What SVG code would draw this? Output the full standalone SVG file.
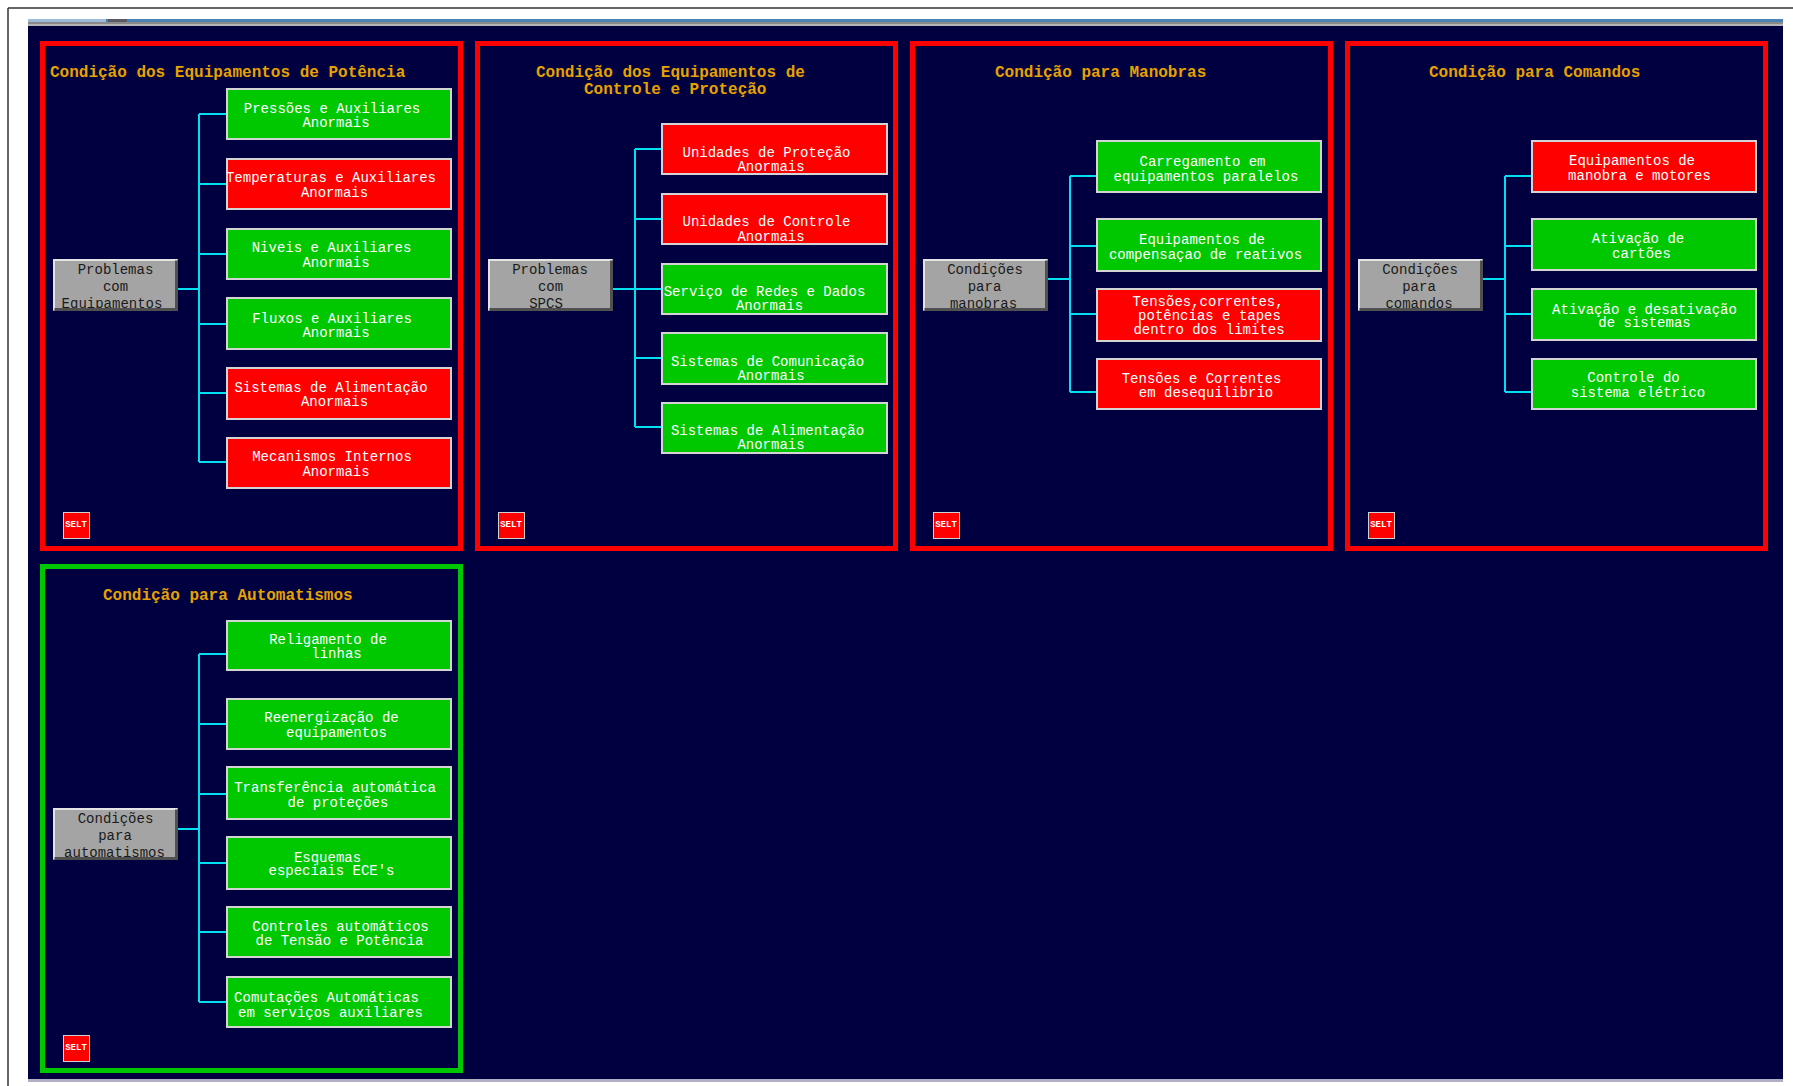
<svg xmlns="http://www.w3.org/2000/svg" xmlns:xlink="http://www.w3.org/1999/xlink" width="1793" height="1086" viewBox="0 0 1793 1086">
  <style>
    .frame { fill: none; stroke: #333333; stroke-width: 1.5; }
    .panel { fill: none; stroke-width: 5; }
    .panel-red { stroke: #ff0000; }
    .panel-green { stroke: #00c800; }
    .title { font-family: "Liberation Mono", "Courier New", monospace; font-size: 16px; font-weight: bold; fill: #e6a200; }
    .box { stroke: #d4d4d4; stroke-width: 2; }
    .ok { fill: #00c800; }
    .alarm { fill: #ff0000; }
    .bt { font-family: "Liberation Mono", "Courier New", monospace; font-size: 14px; fill: #ffffff; text-anchor: middle; }
    .gt { font-family: "Liberation Mono", "Courier New", monospace; font-size: 14px; fill: #1a1a1a; text-anchor: middle; }
    .conn { fill: none; stroke: #00e0f0; stroke-width: 2; }
    .selt-t { font-family: "Liberation Mono", "Courier New", monospace; font-size: 9px; font-weight: bold; fill: #ffffff; text-anchor: middle; }
  </style>
  <defs>
    <!-- bevelled grey push-button, 125 x 52 -->
    <symbol id="btn" width="125" height="52" overflow="visible">
      <rect x="0" y="0" width="125" height="52" fill="#a4a4a4"/>
      <polyline points="1,51 1,1 124,1" fill="none" stroke="#e4e4e4" stroke-width="2"/>
      <polyline points="1.5,50.5 123.5,50.5 123.5,1.5" fill="none" stroke="#505050" stroke-width="3"/>
    </symbol>
    <!-- small SELT selector button -->
    <symbol id="selt" width="27" height="27" overflow="visible">
      <rect x="0.5" y="0.5" width="26" height="26" fill="#ff0000" stroke="#d0d0d0" stroke-width="1"/>
      <text x="13" y="15" class="selt-t">SELT</text>
    </symbol>
    <clipPath id="clip-p1"><rect x="54" y="260" width="121" height="48"/></clipPath>
    <clipPath id="clip-p2"><rect x="489" y="260" width="121" height="48"/></clipPath>
    <clipPath id="clip-p3"><rect x="924" y="260" width="121" height="48"/></clipPath>
    <clipPath id="clip-p4"><rect x="1359" y="260" width="121" height="48"/></clipPath>
    <clipPath id="clip-p5"><rect x="54" y="809" width="121" height="48"/></clipPath>
  </defs>

  <!-- window background and frame -->
  <rect x="0" y="0" width="1793" height="1086" fill="#ffffff"/>
  <line x1="8" y1="8" x2="1793" y2="8" class="frame"/>
  <line x1="8" y1="8" x2="8" y2="1086" class="frame"/>
  <rect x="28" y="19" width="1755" height="3" fill="#4b82b4"/>
  <rect x="28" y="19" width="78" height="3" fill="#9bbbd8"/>
  <rect x="108" y="19" width="19" height="3" fill="#5a5a64"/>
  <rect x="28" y="22" width="1755" height="2" fill="#8a8a8a"/>
  <rect x="28" y="24" width="1755" height="2" fill="#b4b4b4"/>
  <rect x="28" y="26" width="1755" height="1053" fill="#000040"/>
  <rect x="28" y="1079" width="1755" height="3" fill="#b0b0c4"/>

  <!-- panel frames and titles -->
  <g id="panel-potencia">
    <rect x="42.5" y="43.5" width="418" height="505" class="panel panel-red"/>
    <text x="50" y="77" class="title">Condição dos Equipamentos de Potência</text>
    <use xlink:href="#selt" x="63" y="512"/>
  </g>
  <g id="panel-controle">
    <rect x="477.5" y="43.5" width="418" height="505" class="panel panel-red"/>
    <text x="536" y="77" class="title">Condição dos Equipamentos de</text>
    <text x="584" y="94" class="title">Controle e Proteção</text>
    <use xlink:href="#selt" x="498" y="512"/>
  </g>
  <g id="panel-manobras">
    <rect x="912.5" y="43.5" width="418" height="505" class="panel panel-red"/>
    <text x="995" y="77" class="title">Condição para Manobras</text>
    <use xlink:href="#selt" x="933" y="512"/>
  </g>
  <g id="panel-comandos">
    <rect x="1347.5" y="43.5" width="418" height="505" class="panel panel-red"/>
    <text x="1429" y="77" class="title">Condição para Comandos</text>
    <use xlink:href="#selt" x="1368" y="512"/>
  </g>
  <g id="panel-automatismos">
    <rect x="42.5" y="566.5" width="418" height="504" class="panel panel-green"/>
    <text x="103" y="600" class="title">Condição para Automatismos</text>
    <use xlink:href="#selt" x="63" y="1035"/>
  </g>

  <!-- connectors: stem from each grey button, trunk, branches to items -->
  <g id="connectors">
    <path class="conn" d="M176,289 H199 M199,114 V462 M199,114 H226 M199,184 H226 M199,254 H226 M199,324 H226 M199,393 H226 M199,462 H226"/>
    <path class="conn" d="M611,289 H635 M635,149 V427 M635,149 H661 M635,219 H661 M635,289 H661 M635,358 H661 M635,427 H661"/>
    <path class="conn" d="M1045,279 H1070 M1070,176 V392 M1070,176 H1096 M1070,246 H1096 M1070,314 H1096 M1070,392 H1096"/>
    <path class="conn" d="M1480,279 H1505 M1505,176 V392 M1505,176 H1531 M1505,246 H1531 M1505,314 H1531 M1505,392 H1531"/>
    <path class="conn" d="M176,829 H199 M199,654 V1002 M199,654 H226 M199,724 H226 M199,794 H226 M199,863 H226 M199,932 H226 M199,1002 H226"/>
  </g>

  <!-- grey root buttons -->
  <g id="root-equipamentos">
    <use xlink:href="#btn" x="53" y="259"/>
    <g clip-path="url(#clip-p1)">
      <text x="115.5" y="273.5" class="gt">Problemas</text>
      <text x="115.5" y="290.5" class="gt">com</text>
      <text x="112" y="307.5" class="gt">Equipamentos</text>
    </g>
  </g>
  <g id="root-spcs">
    <use xlink:href="#btn" x="488" y="259"/>
    <g clip-path="url(#clip-p2)">
      <text x="550" y="273.5" class="gt">Problemas</text>
      <text x="550.5" y="290.5" class="gt">com</text>
      <text x="546" y="307.5" class="gt">SPCS</text>
    </g>
  </g>
  <g id="root-manobras">
    <use xlink:href="#btn" x="923" y="259"/>
    <g clip-path="url(#clip-p3)">
      <text x="985" y="273.5" class="gt">Condições</text>
      <text x="984.5" y="290.5" class="gt">para</text>
      <text x="983.5" y="307.5" class="gt">manobras</text>
    </g>
  </g>
  <g id="root-comandos">
    <use xlink:href="#btn" x="1358" y="259"/>
    <g clip-path="url(#clip-p4)">
      <text x="1420" y="273.5" class="gt">Condições</text>
      <text x="1419" y="290.5" class="gt">para</text>
      <text x="1419" y="307.5" class="gt">comandos</text>
    </g>
  </g>
  <g id="root-automatismos">
    <use xlink:href="#btn" x="53" y="808"/>
    <g clip-path="url(#clip-p5)">
      <text x="115.5" y="822.5" class="gt">Condições</text>
      <text x="115" y="839.5" class="gt">para</text>
      <text x="114.5" y="856.5" class="gt">automatismos</text>
    </g>
  </g>

  <!-- Potência items -->
  <g id="pot-pressoes"><rect x="227" y="89" width="224" height="50" class="box ok"/>
    <text x="332" y="112.5" class="bt">Pressões e Auxiliares</text><text x="336" y="126.5" class="bt">Anormais</text></g>
  <g id="pot-temperaturas"><rect x="227" y="159" width="224" height="50" class="box alarm"/>
    <text x="331" y="181.5" class="bt">Temperaturas e Auxiliares</text><text x="334.5" y="196.5" class="bt">Anormais</text></g>
  <g id="pot-niveis"><rect x="227" y="229" width="224" height="50" class="box ok"/>
    <text x="331.5" y="251.5" class="bt">Niveis e Auxiliares</text><text x="336" y="266.5" class="bt">Anormais</text></g>
  <g id="pot-fluxos"><rect x="227" y="298" width="224" height="51" class="box ok"/>
    <text x="332" y="322.5" class="bt">Fluxos e Auxiliares</text><text x="336" y="336.5" class="bt">Anormais</text></g>
  <g id="pot-alimentacao"><rect x="227" y="368" width="224" height="51" class="box alarm"/>
    <text x="331" y="391.5" class="bt">Sistemas de Alimentação</text><text x="334.5" y="405.5" class="bt">Anormais</text></g>
  <g id="pot-mecanismos"><rect x="227" y="438" width="224" height="50" class="box alarm"/>
    <text x="332" y="460.5" class="bt">Mecanismos Internos</text><text x="336" y="475.5" class="bt">Anormais</text></g>

  <!-- Controle e Proteção items -->
  <g id="spcs-protecao"><rect x="662" y="124" width="225" height="50" class="box alarm"/>
    <text x="766.5" y="156.5" class="bt">Unidades de Proteção</text><text x="771" y="170.5" class="bt">Anormais</text></g>
  <g id="spcs-controle"><rect x="662" y="194" width="225" height="50" class="box alarm"/>
    <text x="766.5" y="225.5" class="bt">Unidades de Controle</text><text x="771" y="240.5" class="bt">Anormais</text></g>
  <g id="spcs-redes"><rect x="662" y="264" width="225" height="50" class="box ok"/>
    <text x="764.5" y="295.5" class="bt">Serviço de Redes e Dados</text><text x="769.5" y="309.5" class="bt">Anormais</text></g>
  <g id="spcs-comunicacao"><rect x="662" y="333" width="225" height="51" class="box ok"/>
    <text x="767.5" y="365.5" class="bt">Sistemas de Comunicação</text><text x="771" y="379.5" class="bt">Anormais</text></g>
  <g id="spcs-alimentacao"><rect x="662" y="403" width="225" height="50" class="box ok"/>
    <text x="767.5" y="435" class="bt">Sistemas de Alimentação</text><text x="771" y="448.5" class="bt">Anormais</text></g>

  <!-- Manobras items -->
  <g id="man-carregamento"><rect x="1097" y="141" width="224" height="51" class="box ok"/>
    <text x="1202.5" y="165.5" class="bt">Carregamento em</text><text x="1206" y="180.5" class="bt">equipamentos paralelos</text></g>
  <g id="man-compensacao"><rect x="1097" y="219" width="224" height="52" class="box ok"/>
    <text x="1202" y="243.5" class="bt">Equipamentos de</text><text x="1205.5" y="258.5" class="bt">compensaçao de reativos</text></g>
  <g id="man-limites"><rect x="1097" y="289" width="224" height="52" class="box alarm"/>
    <text x="1208" y="305.5" class="bt">Tensões,correntes,</text><text x="1209.5" y="319.5" class="bt">potências e tapes</text><text x="1209" y="333.5" class="bt">dentro dos limites</text></g>
  <g id="man-desequilibrio"><rect x="1097" y="359" width="224" height="50" class="box alarm"/>
    <text x="1201.5" y="382.5" class="bt">Tensões e Correntes</text><text x="1206" y="396.5" class="bt">em desequilibrio</text></g>

  <!-- Comandos items -->
  <g id="cmd-equipamentos"><rect x="1532" y="141" width="224" height="51" class="box alarm"/>
    <text x="1632" y="165" class="bt">Equipamentos de</text><text x="1639.5" y="179.5" class="bt">manobra e motores</text></g>
  <g id="cmd-cartoes"><rect x="1532" y="219" width="224" height="51" class="box ok"/>
    <text x="1638" y="243" class="bt">Ativação de</text><text x="1641.5" y="258" class="bt">cartões</text></g>
  <g id="cmd-sistemas"><rect x="1532" y="289" width="224" height="51" class="box ok"/>
    <text x="1644.5" y="313.5" class="bt">Ativação e desativação</text><text x="1644.5" y="326.5" class="bt">de sistemas</text></g>
  <g id="cmd-controle"><rect x="1532" y="359" width="224" height="50" class="box ok"/>
    <text x="1633.5" y="381.5" class="bt">Controle do</text><text x="1638" y="396.5" class="bt">sistema elétrico</text></g>

  <!-- Automatismos items -->
  <g id="aut-religamento"><rect x="227" y="621" width="224" height="49" class="box ok"/>
    <text x="328" y="644" class="bt">Religamento de</text><text x="336.5" y="658" class="bt">linhas</text></g>
  <g id="aut-reenergizacao"><rect x="227" y="699" width="224" height="50" class="box ok"/>
    <text x="331.5" y="722" class="bt">Reenergização de</text><text x="336.5" y="736.5" class="bt">equipamentos</text></g>
  <g id="aut-transferencia"><rect x="227" y="767" width="224" height="52" class="box ok"/>
    <text x="335" y="792" class="bt">Transferência automática</text><text x="338" y="806.5" class="bt">de proteções</text></g>
  <g id="aut-esquemas"><rect x="227" y="837" width="224" height="52" class="box ok"/>
    <text x="327.5" y="862" class="bt">Esquemas</text><text x="331.5" y="875" class="bt">especiais ECE's</text></g>
  <g id="aut-controles"><rect x="227" y="907" width="224" height="50" class="box ok"/>
    <text x="340.5" y="930.5" class="bt">Controles automáticos</text><text x="339.5" y="945" class="bt">de Tensão e Potência</text></g>
  <g id="aut-comutacoes"><rect x="227" y="977" width="224" height="50" class="box ok"/>
    <text x="326.5" y="1001.5" class="bt">Comutações Automáticas</text><text x="330.5" y="1016.5" class="bt">em serviços auxiliares</text></g>
</svg>
